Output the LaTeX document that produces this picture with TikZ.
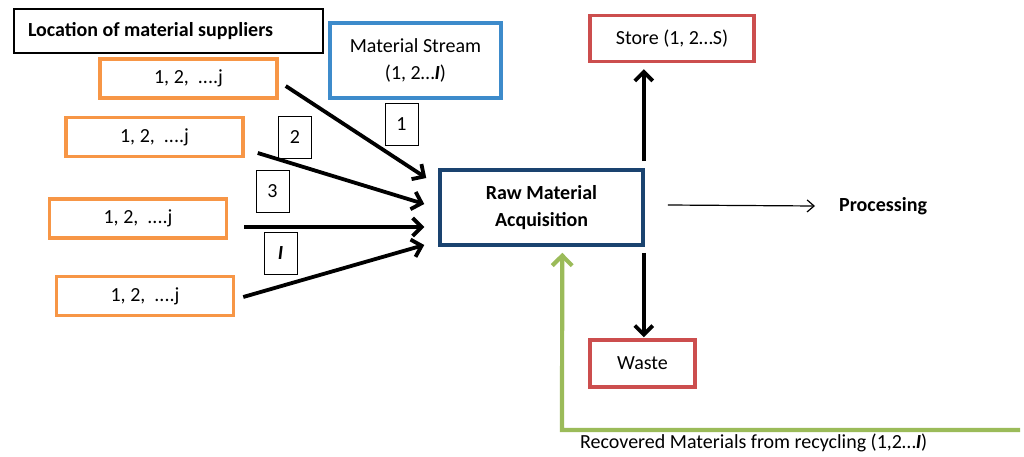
\documentclass[tikz,border=0pt]{standalone}
\usepackage{fontspec}
\setmainfont{Carlito}
\usetikzlibrary{arrows.meta}
\definecolor{orangeB}{HTML}{F79646}
\definecolor{blueB}{HTML}{3D8BCB}
\definecolor{navyB}{HTML}{1A436F}
\definecolor{redB}{HTML}{CC4E4E}
\definecolor{greenB}{HTML}{9BBB59}
\tikzset{
  base/.style={inner sep=0pt, align=center, font=\fontsize{20}{27}\selectfont},
  supplier/.style={base, draw=orangeB, line width=3.5pt, minimum width=177pt, minimum height=39pt},
  labelbox/.style={base, draw=black, line width=0.9pt, minimum width=33pt, minimum height=42pt},
  stage/.style={base, line width=3.5pt},
  bigarrow/.style={line width=3.8pt, -{Straight Barb[length=9pt,width=18pt]}},
  thinarrow/.style={line width=1.2pt, -{Straight Barb[length=7pt,width=12pt]}},
  greenline/.style={draw=greenB, line width=4.2pt, line join=miter},
}
\newcommand{\bI}{\textbf{\textit{I}}}
\begin{document}
\begin{tikzpicture}[x=1pt,y=1pt]
\useasboundingbox (0,0) rectangle (1024,-457);
% header box
\node[base, draw=black, line width=1.1pt, minimum width=309pt, minimum height=44pt,
      text width=281pt, align=flush left, font=\fontsize{20}{27}\selectfont\bfseries] (loc) at (168.5,-31) {Location of material suppliers};
% supplier boxes
\node[supplier] (o1) at (188.5,-78.5) {1, 2,\ \ ....j};
\node[supplier] (o2) at (154.5,-137) {1, 2,\ \ ....j};
\node[supplier] (o3) at (138,-218.5) {1, 2,\ \ ....j};
\node[supplier] (o4) at (145,-296) {1, 2,\ \ ....j};
% material stream
\node[stage, draw=blueB, minimum width=171pt, minimum height=75pt] (ms) at (415.5,-60.5) {Material Stream\\(1, 2…\bI)};
% labels
\node[labelbox] (l1) at (401.5,-124.5) {1};
\node[labelbox] (l2) at (295,-137) {2};
\node[labelbox] (l3) at (272.5,-191.5) {3};
\node[labelbox] (l4) at (280.5,-253) {\bI};
% raw material
\node[stage, draw=navyB, minimum width=203pt, minimum height=75pt, font=\fontsize{20}{27}\selectfont\bfseries] (raw) at (541.5,-207.5) {Raw Material\\Acquisition};
% store / waste
\node[stage, draw=redB, minimum width=164pt, minimum height=46pt] (store) at (672,-38.5) {Store (1, 2…S)};
\node[stage, draw=redB, minimum width=105pt, minimum height=47pt] (waste) at (642.5,-363.5) {Waste};
% processing
\node[base, anchor=west, font=\fontsize{20}{27}\selectfont\bfseries] (proc) at (839,-206) {Processing};
% supplier arrows
\draw[bigarrow] ([xshift=7pt,yshift=-7.5pt]o1.east) -- ([xshift=-12pt,yshift=29.5pt]raw.west);
\draw[bigarrow] ([xshift=13pt,yshift=-16pt]o2.east) -- ([xshift=-14pt,yshift=3.5pt]raw.west);
\draw[bigarrow] ([xshift=16pt,yshift=-8.5pt]o3.east) -- ([xshift=-14pt,yshift=-19.5pt]raw.west);
\draw[bigarrow] ([xshift=8pt,yshift=-1pt]o4.east) -- ([xshift=-14pt,yshift=-37.5pt]raw.west);
% store and waste arrows
\coordinate (up) at ([xshift=-1pt,yshift=7pt]raw.north east);
\coordinate (dn) at ([xshift=-1pt,yshift=-6pt]raw.south east);
\draw[bigarrow, shorten >=6pt] (up) -- (up |- store.south);
\draw[bigarrow, shorten >=1pt] (dn) -- (dn |- waste.north);
% processing arrow
\draw[thinarrow] ([xshift=23pt,yshift=2.5pt]raw.east) -- ([xshift=-24pt]proc.west);
% recovered materials
\coordinate (g2) at (1020,-430);
\coordinate (g1) at (562,-430);
\draw[greenline, -{Straight Barb[length=10pt,width=20pt]}] (g2) -- (g1) -- ([xshift=124pt,yshift=-6pt]raw.south west);
\node[base, anchor=west] (rec) at (580,-443) {Recovered Materials from recycling (1,2…\bI)};
\end{tikzpicture}
\end{document}
